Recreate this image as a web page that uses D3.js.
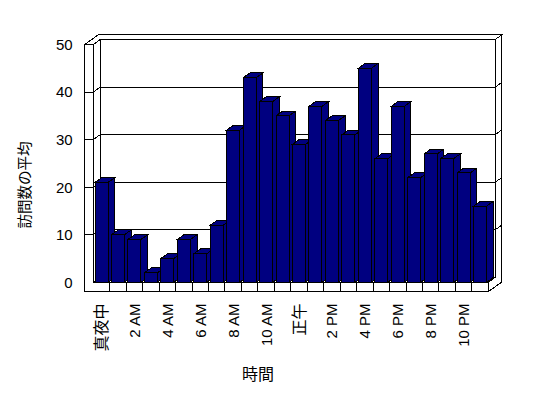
<!DOCTYPE html>
<html><head><meta charset="utf-8">
<script src="https://cdn.jsdelivr.net/npm/d3@7"></script>
<style>body{margin:0;background:#fff}svg{display:block}</style></head>
<body><svg id="c" width="548" height="398"></svg>
<script>
const categories = ["真夜中","1 AM","2 AM","3 AM","4 AM","5 AM","6 AM","7 AM","8 AM","9 AM","10 AM","11 AM",
                    "正午","1 PM","2 PM","3 PM","4 PM","5 PM","6 PM","7 PM","8 PM","9 PM","10 PM","11 PM"];
const values = [21,10,9,2,5,9,6,12,32,43,38,35,29,37,34,31,45,26,37,22,27,26,23,16];
const yTicks = [0,10,20,30,40,50];
const xTitle = "時間";
const yTitle = "訪問数の平均";

const svg = d3.select("#c");
const X0 = 93.3, X1 = 488.3, Y0 = 282.3, Y1 = 44.5;
const DX = 6.7, DY = -4.8, WALL = 8.6, FLOOR = 9.4;
const latin = "'Liberation Sans', Arial, sans-serif";
const cjk = "'Noto Sans CJK JP', sans-serif";

const xc = d3.scaleBand().domain(categories).range([X0, X1]);
const xb = d3.scaleBand().domain(categories).range([X0, X1]).paddingInner(0.21).paddingOuter(0.105);
const y = d3.scaleLinear().domain([0, 50]).range([Y0, Y1]);

const line = d3.line();
function poly(pts, fill) {
  svg.append("path").attr("d", line(pts) + "Z")
    .attr("fill", fill).attr("stroke", "#000").attr("stroke-width", 1)
    .attr("stroke-linejoin", "miter").attr("shape-rendering", "crispEdges");
}
function seg(a, b) {
  svg.append("line").attr("x1", a[0]).attr("y1", a[1]).attr("x2", b[0]).attr("y2", b[1])
    .attr("stroke", "#000").attr("stroke-width", 1).attr("shape-rendering", "crispEdges");
}

// top faces of walls
poly([[X0 - WALL, Y1], [X0, Y1], [X0 + DX, Y1 + DY], [X1 + DX, Y1 + DY], [X1 + 2 * DX, Y1 + 2 * DY], [X0 - WALL + 2 * DX, Y1 + 2 * DY]], "#fff");
// right faces of back wall + floor
poly([[X1 + DX, Y1 + DY], [X1 + 2 * DX, Y1 + 2 * DY], [X1 + 2 * DX, Y0 + FLOOR + 2 * DY], [X1, Y0 + FLOOR], [X1, Y0], [X1 + DX, Y0 + DY]], "#fff");
// back wall front face
poly([[X0 + DX, Y1 + DY], [X1 + DX, Y1 + DY], [X1 + DX, Y0 + DY], [X0 + DX, Y0 + DY]], "#fff");
// left wall inner face
poly([[X0, Y1], [X0 + DX, Y1 + DY], [X0 + DX, Y0 + DY], [X0, Y0]], "#fff");
// floor top face
poly([[X0, Y0], [X1, Y0], [X1 + DX, Y0 + DY], [X0 + DX, Y0 + DY]], "#fff");
// L-shaped front face of left wall + floor
poly([[X0 - WALL, Y1], [X0, Y1], [X0, Y0], [X1, Y0], [X1, Y0 + FLOOR], [X0 - WALL, Y0 + FLOOR]], "#fff");

// gridlines and ticks
yTicks.filter(v => v > 0 && v < 50).forEach(v => {
  const yy = y(v);
  seg([X0 - WALL, yy], [X0, yy]);
  seg([X0, yy], [X0 + DX, yy + DY]);
  seg([X0 + DX, yy + DY], [X1 + DX, yy + DY]);
  seg([X1 + DX, yy + DY], [X1 + 2 * DX, yy + 2 * DY]);
});
// floor dividers at category boundaries
categories.forEach((c, i) => {
  if (i > 0) seg([xc(c), Y0], [xc(c), Y0 + FLOOR]);
});

// bars
categories.forEach((c, i) => {
  const v = values[i];
  const x0 = xb(c), x1 = x0 + xb.bandwidth(), yt = y(v), yb = y(0);
  const col = "#000080";
  poly([[x1, yt], [x1 + DX, yt + DY], [x1 + DX, yb + DY], [x1, yb]], col);
  poly([[x0, yt], [x0 + DX, yt + DY], [x1 + DX, yt + DY], [x1, yt]], col);
  poly([[x0, yt], [x1, yt], [x1, yb], [x0, yb]], col);
});

// y tick labels
svg.append("g").selectAll("text").data(yTicks).join("text")
  .attr("x", 72.7).attr("y", d => y(d)).attr("dy", "0.36em")
  .attr("text-anchor", "end").attr("font-family", latin).attr("font-size", 15)
  .text(d => d);

// x tick labels (every other)
svg.append("g").selectAll("text").data(categories.filter((c, i) => i % 2 === 0)).join("text")
  .attr("transform", d => `translate(${xc(d) + xc.bandwidth() / 2},303.5) rotate(-90)`)
  .attr("dy", "0.36em").attr("text-anchor", "end")
  .attr("font-family", d => /[A-Z0-9]/.test(d) ? latin : cjk)
  .attr("font-size", d => /[A-Z0-9]/.test(d) ? 15 : 16)
  .text(d => d);

// axis titles
svg.append("text").attr("x", 258).attr("y", 374).attr("dy", "0.36em")
  .attr("text-anchor", "middle").attr("font-family", cjk).attr("font-size", 16).text(xTitle);
svg.append("text").attr("transform", "translate(25,185) rotate(-90)").attr("dy", "0.36em")
  .attr("text-anchor", "middle").attr("font-family", cjk).attr("font-size", 14.5).text(yTitle);
</script></body></html>
